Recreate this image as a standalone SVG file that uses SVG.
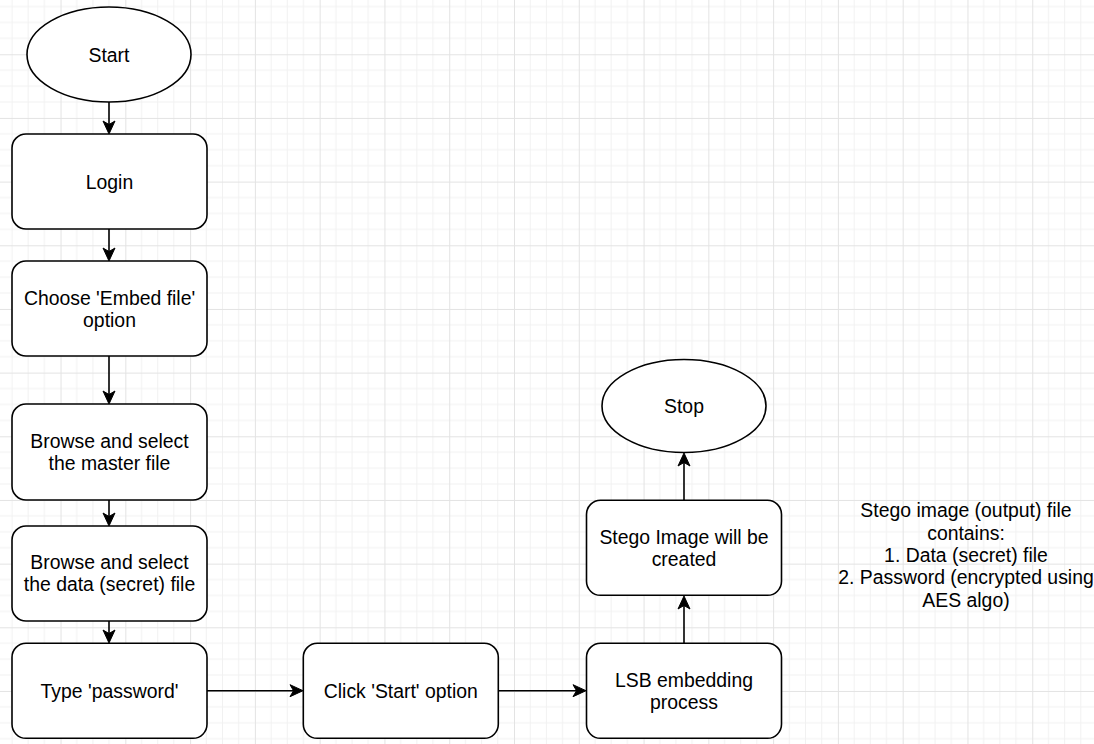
<svg xmlns="http://www.w3.org/2000/svg" width="1094" height="744" viewBox="0 0 1094 744">
  <style>
    .shape { fill: #ffffff; stroke: #000000; stroke-width: 1.6; }
    .conn { fill: none; stroke: #000000; stroke-width: 1.6; marker-end: url(#arrow); }
    text { font-family: "Liberation Sans", Arial, Helvetica, sans-serif; font-size: 19.4px; fill: #000000; text-anchor: middle; }
    .minor { stroke: #f1f1f1; stroke-width: 1; }
    .major { stroke: #e3e3e3; stroke-width: 1; }
  </style>
  <defs>
    <pattern id="grid" patternUnits="userSpaceOnUse" x="-4.24" y="-9.4" width="64.78" height="63.67">
      <line class="minor" x1="16.195" y1="0" x2="16.195" y2="63.67"/>
      <line class="minor" x1="32.39" y1="0" x2="32.39" y2="63.67"/>
      <line class="minor" x1="48.585" y1="0" x2="48.585" y2="63.67"/>
      <line class="minor" x1="0" y1="15.92" x2="64.78" y2="15.92"/>
      <line class="minor" x1="0" y1="31.835" x2="64.78" y2="31.835"/>
      <line class="minor" x1="0" y1="47.75" x2="64.78" y2="47.75"/>
      <line class="major" x1="0.5" y1="0" x2="0.5" y2="63.67"/>
      <line class="major" x1="0" y1="0.5" x2="64.78" y2="0.5"/>
    </pattern>
    <marker id="arrow" markerUnits="userSpaceOnUse" markerWidth="14" markerHeight="13" refX="9" refY="6" orient="auto" overflow="visible">
      <path d="M0,0 L13,6 L0,12 L3.5,6 Z" fill="#000000" stroke="#000000" stroke-width="1"/>
    </marker>
  </defs>

  <rect x="0" y="0" width="1094" height="744" fill="#ffffff"/>
  <rect x="0" y="0" width="1094" height="744" fill="url(#grid)"/>

  <g id="connectors">
    <line class="conn" x1="109" y1="102" x2="109" y2="130"/>
    <line class="conn" x1="109" y1="229" x2="109" y2="257"/>
    <line class="conn" x1="109" y1="356" x2="109" y2="400"/>
    <line class="conn" x1="109" y1="500" x2="109" y2="522"/>
    <line class="conn" x1="109" y1="621" x2="109" y2="639"/>
    <line class="conn" x1="207" y1="690.7" x2="299" y2="690.7"/>
    <line class="conn" x1="498" y1="690.7" x2="582" y2="690.7"/>
    <line class="conn" x1="684" y1="643" x2="684" y2="600"/>
    <line class="conn" x1="684" y1="500" x2="684" y2="457"/>
  </g>

  <g id="start">
    <ellipse class="shape" cx="109" cy="54.5" rx="82" ry="47.5"/>
    <text x="109" y="62">Start</text>
  </g>

  <g id="login">
    <rect class="shape" x="12" y="134" width="195" height="95" rx="14" ry="14"/>
    <text x="109.5" y="189">Login</text>
  </g>

  <g id="choose">
    <rect class="shape" x="12" y="261" width="195" height="95" rx="14" ry="14"/>
    <text x="109.5" y="305.3">Choose 'Embed file'</text>
    <text x="109.5" y="327">option</text>
  </g>

  <g id="master">
    <rect class="shape" x="12" y="404" width="195" height="96" rx="14" ry="14"/>
    <text x="109.5" y="448.3">Browse and select</text>
    <text x="109.5" y="470.3">the master file</text>
  </g>

  <g id="data">
    <rect class="shape" x="12" y="526" width="195" height="95" rx="14" ry="14"/>
    <text x="109.5" y="569.3">Browse and select</text>
    <text x="109.5" y="591.3">the data (secret) file</text>
  </g>

  <g id="password">
    <rect class="shape" x="12" y="643.3" width="195" height="95" rx="14" ry="14"/>
    <text x="109.5" y="698">Type 'password'</text>
  </g>

  <g id="click">
    <rect class="shape" x="303.3" y="643.3" width="195" height="95" rx="14" ry="14"/>
    <text x="400.8" y="698">Click 'Start' option</text>
  </g>

  <g id="lsb">
    <rect class="shape" x="586.5" y="643.3" width="195" height="95" rx="14" ry="14"/>
    <text x="684" y="686.9">LSB embedding</text>
    <text x="684" y="708.9">process</text>
  </g>

  <g id="stego">
    <rect class="shape" x="586.5" y="500.3" width="195" height="95" rx="14" ry="14"/>
    <text x="684" y="544.3">Stego Image will be</text>
    <text x="684" y="566">created</text>
  </g>

  <g id="stop">
    <ellipse class="shape" cx="684" cy="406" rx="82" ry="46.5"/>
    <text x="684" y="413">Stop</text>
  </g>

  <g id="note">
    <text x="966" y="517.3">Stego image (output) file</text>
    <text x="966" y="539.8">contains:</text>
    <text x="966" y="562">1. Data (secret) file</text>
    <text x="966" y="584.3">2. Password (encrypted using</text>
    <text x="966" y="607">AES algo)</text>
  </g>
</svg>
